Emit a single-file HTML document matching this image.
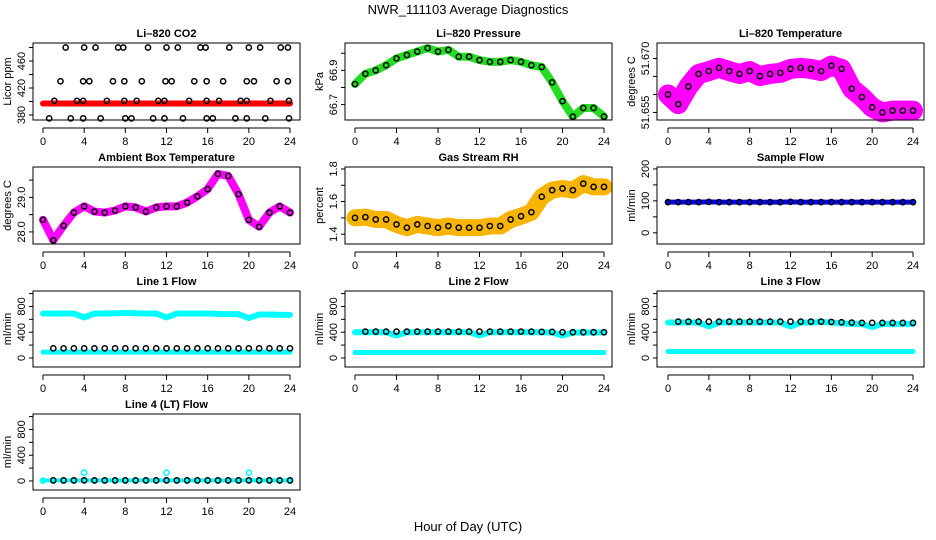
<!DOCTYPE html>
<html><head><meta charset="utf-8"><style>
body{margin:0;background:#fff}
svg{display:block;font-family:"Liberation Sans",sans-serif}
</style></head><body>
<svg id="c" width="936" height="540">
<text x="468" y="14" text-anchor="middle" font-size="13">NWR_111103  Average Diagnostics</text>
<text x="468" y="531" text-anchor="middle" font-size="13">Hour of Day (UTC)</text>
</svg>
<script>
const hours=[0,1,2,3,4,5,6,7,8,9,10,11,12,13,14,15,16,17,18,19,20,21,22,23,24];
const xTicks=[0,4,8,12,16,20,24];
const co2Hours=[2.2,4,5.1,7.3,7.8,10.2,12,13.1,15.3,15.8,18.1,20,21.1,23.1,23.8, 1.7,3.9,4.5,6.8,7.9,9.6,11.9,12.5,14.7,15.9,17.5,19.8,20.5,22.7,23.8, 1.1,3.3,3.9,6.2,7.9,9.1,11.2,11.8,14.2,15.9,17.1,19.2,19.8,22.1,23.9, 0.6,2.7,3.9,5.6,8,8.6,10.7,11.8,13.6,15.9,16.5,18.7,19.8,21.6,23.9];
const co2Values=[480,480,480,480,480,480,480,480,480,480,480,480,480,480,480, 430,430,430,430,430,430,430,430,430,430,430,430,430,430,430, 401,401,401,401,401,401,401,401,401,401,401,401,401,401,401, 375,375,375,375,375,375,375,375,375,375,375,375,375,375,375];
const co2Band=[397,397,397,397,397,397,397,397,397,397,397,397,397,397,397,397,397,397,397,397,397,397,397,397,397];
const pressure=[66.82,66.88,66.90,66.93,66.97,66.99,67.01,67.03,67.01,67.02,66.98,66.98,66.96,66.95,66.95,66.96,66.95,66.93,66.92,66.83,66.72,66.63,66.68,66.68,66.63];
const licorTemp=[51.660,51.6573,51.6622,51.6657,51.6665,51.6674,51.6665,51.6657,51.6665,51.6651,51.6657,51.666,51.6671,51.6674,51.6671,51.6665,51.668,51.6671,51.6616,51.6593,51.6564,51.655,51.6555,51.6555,51.6555];
const ambientTemp=[28.35,27.76,28.18,28.56,28.74,28.59,28.56,28.62,28.74,28.71,28.59,28.71,28.74,28.74,28.85,29.03,29.24,29.68,29.62,29.09,28.35,28.15,28.56,28.74,28.56];
const rh=[1.50,1.505,1.49,1.49,1.46,1.44,1.46,1.45,1.44,1.45,1.44,1.44,1.44,1.45,1.45,1.49,1.51,1.535,1.63,1.67,1.68,1.67,1.71,1.69,1.69];
const sampleFlow=[96,96,96,96,97,96,96,96,96,96,96,96,97,96,96,96,96,96,96,96,96,96,96,96,96];
const line1High=[690,690,690,690,630,690,690,695,700,695,690,690,630,690,690,690,690,685,680,680,620,675,675,670,670];
const line1Circ=[150,150,150,150,150,150,150,150,150,150,150,150,150,150,150,150,150,150,150,150,150,150,150,150,150];
const line1Low=[90,90,90,90,90,90,90,90,90,90,90,90,90,90,90,90,90,90,90,90,90,90,90,90,90];
const line2High=[400,400,400,400,350,400,400,400,400,400,400,400,350,400,400,400,400,400,400,395,350,395,395,395,395];
const line2Circ=[410,410,410,410,410,410,410,410,410,410,410,410,410,410,410,410,410,410,405,405,400,400,400,400,400];
const line2Low=[85,85,85,85,85,85,85,85,85,85,85,85,85,85,85,85,85,85,85,85,85,85,85,85,85];
const line3High=[550,550,550,550,490,550,550,550,550,550,550,550,490,550,550,560,550,540,530,530,480,530,530,530,530];
const line3Circ=[560,565,565,565,565,565,565,565,565,565,565,565,565,565,565,565,560,555,550,545,545,545,545,545,545];
const line3Low=[100,100,100,100,100,100,100,100,100,100,100,100,100,100,100,100,100,100,100,100,100,100,100,100,100];
const line4Cyan=[5,5,5,5,130,5,5,5,5,5,5,5,130,5,5,5,5,5,5,5,130,5,5,5,5];
const line4Circ=[10,10,10,10,10,10,10,10,10,10,10,10,10,10,10,10,10,10,10,10,10,10,10,10,10];

const svg=document.getElementById('c');
const NS='http://www.w3.org/2000/svg';
function el(tag,attrs,parent){const e=document.createElementNS(NS,tag);for(const k in attrs)e.setAttribute(k,attrs[k]);(parent||svg).appendChild(e);return e;}
const cols=[{bx0:33,bx1:300,x0:43,x24:290},{bx0:345,bx1:612,x0:355,x24:604},{bx0:657,bx1:924,x0:668,x24:913}];
const rows=[[43,120],[167,244],[291,367],[414,490]];
function panel(name,title,ylab,col,row,ylim,ticks,labels){
  const c=cols[col],r=rows[row];
  const g=el('g',{});
  
  
  const X=h=>c.x0+(c.x24-c.x0)*h/24;
  const Y=v=>r[1]-(v-ylim[0])/(ylim[1]-ylim[0])*(r[1]-r[0]);
  const t=el('text',{x:(c.bx0+c.bx1)/2,y:r[0]-6,'text-anchor':'middle','font-size':11,'font-weight':'bold'},g);t.textContent=title;
  
  
  const plot=el('g',{},g);
  const box=el('rect',{x:c.bx0,y:r[0],width:c.bx1-c.bx0,height:r[1]-r[0],fill:'none',stroke:'#000','stroke-width':1},g);
  
  
  el('line',{x1:X(0),x2:X(24),y1:r[1]+8,y2:r[1]+8,stroke:'#000'},g);
  xTicks.forEach(v=>{el('line',{x1:X(v),x2:X(v),y1:r[1]+8,y2:r[1]+13,stroke:'#000'},g);
    const tx=el('text',{x:X(v),y:r[1]+25,'text-anchor':'middle','font-size':11},g);tx.textContent=v;
    
    });
  const ax=c.bx0;
  ticks.forEach(v=>{el('line',{x1:ax-4,x2:ax,y1:Y(v),y2:Y(v),stroke:'#000'},g);});
  labels.forEach(v=>{const tx=el('text',{x:0,y:0,'text-anchor':'middle','font-size':11,transform:`translate(${ax-8},${Y(v)}) rotate(-90)`},g);tx.textContent=String(v);
    
    });
  const yl=el('text',{x:0,y:0,'text-anchor':'middle','font-size':11,transform:`translate(${ax-22},${(r[0]+r[1])/2}) rotate(-90)`},g);yl.textContent=ylab;
  
  
  return {X,Y,plot};
}
function band(p,xs,vals,color,w,name){
  const pl=el('polyline',{points:xs.map((h,i)=>p.X(h)+','+p.Y(vals[i])).join(' '),fill:'none',stroke:color,'stroke-width':w,'stroke-linejoin':'round','stroke-linecap':'round'},p.plot);
  
  
}
function circles(p,xs,vals,color,name){
  xs.forEach((h,i)=>{const ci=el('circle',{cx:p.X(h),cy:p.Y(vals[i]),r:2.6,fill:'none',stroke:color,'stroke-width':1.5},p.plot);
    
    });
}
let p;
p=panel('co2-panel','Li\u2013820 CO2','Licor ppm',0,0,[372.6,486.7],[380,400,420,440,460,480],[380,420,460]);
band(p,hours,co2Band,'#f00',6,'co2-red-band');circles(p,co2Hours,co2Values,'#000','co2-point');
p=panel('pressure-panel','Li\u2013820 Pressure','kPa',1,0,[66.61,67.06],[66.7,66.8,66.9,67.0],['66.7','66.9']);
band(p,hours,pressure,'#22dd22',8,'pressure-cloud');circles(p,hours,pressure,'#000','pressure-point');
p=panel('licor-temp-panel','Li\u2013820 Temperature','degrees C',2,0,[51.6529,51.6743],[51.655,51.66,51.665,51.67],['51.655','51.670']);
band(p,hours,licorTemp,'#ff00ff',20,'licor-temp-cloud');circles(p,hours,licorTemp,'#000','licor-temp-point');
p=panel('ambient-temp-panel','Ambient Box Temperature','degrees C',0,1,[27.65,29.88],[28,28.5,29,29.5],['28.0','29.0']);
band(p,hours,ambientTemp,'#ff00ff',8,'ambient-cloud');circles(p,hours,ambientTemp,'#000','ambient-point');
p=panel('rh-panel','Gas Stream RH','percent',1,1,[1.34,1.812],[1.4,1.5,1.6,1.7,1.8],['1.4','1.6','1.8']);
band(p,hours,rh,'#f7b400',17,'rh-cloud');circles(p,hours,rh,'#000','rh-point');
p=panel('sample-flow-panel','Sample Flow','ml/min',2,1,[-35,206],[0,50,100,150,200],[0,100,200]);
band(p,hours,sampleFlow,'#0000ff',5,'sample-flow-cloud');circles(p,hours,sampleFlow,'#000','sample-flow-point');
const fT=[0,200,400,600,800,1000],fL=[0,400,800];
p=panel('line1-flow-panel','Line 1 Flow','ml/min',0,2,[-140,1040],fT,fL);
band(p,hours,line1High,'#00ffff',6,'line1-high');band(p,hours,line1Low,'#00ffff',5,'line1-low');circles(p,hours.slice(1),line1Circ.slice(1),'#000','line1-point');
p=panel('line2-flow-panel','Line 2 Flow','ml/min',1,2,[-140,1040],fT,fL);
band(p,hours,line2High,'#00ffff',6,'line2-high');band(p,hours,line2Low,'#00ffff',5,'line2-low');circles(p,hours.slice(1),line2Circ.slice(1),'#000','line2-point');
p=panel('line3-flow-panel','Line 3 Flow','ml/min',2,2,[-140,1040],fT,fL);
band(p,hours,line3High,'#00ffff',6,'line3-high');band(p,hours,line3Low,'#00ffff',5,'line3-low');circles(p,hours.slice(1),line3Circ.slice(1),'#000','line3-point');
p=panel('line4-flow-panel','Line 4 (LT) Flow','ml/min',0,3,[-140,1040],fT,fL);
band(p,hours,line4Circ,'#00ffff',4,'line4-cyan-base');circles(p,hours,line4Cyan,'#00ffff','line4-cyan-point');circles(p,hours.slice(1),line4Circ.slice(1),'#000','line4-point');
</script>
</body></html>
